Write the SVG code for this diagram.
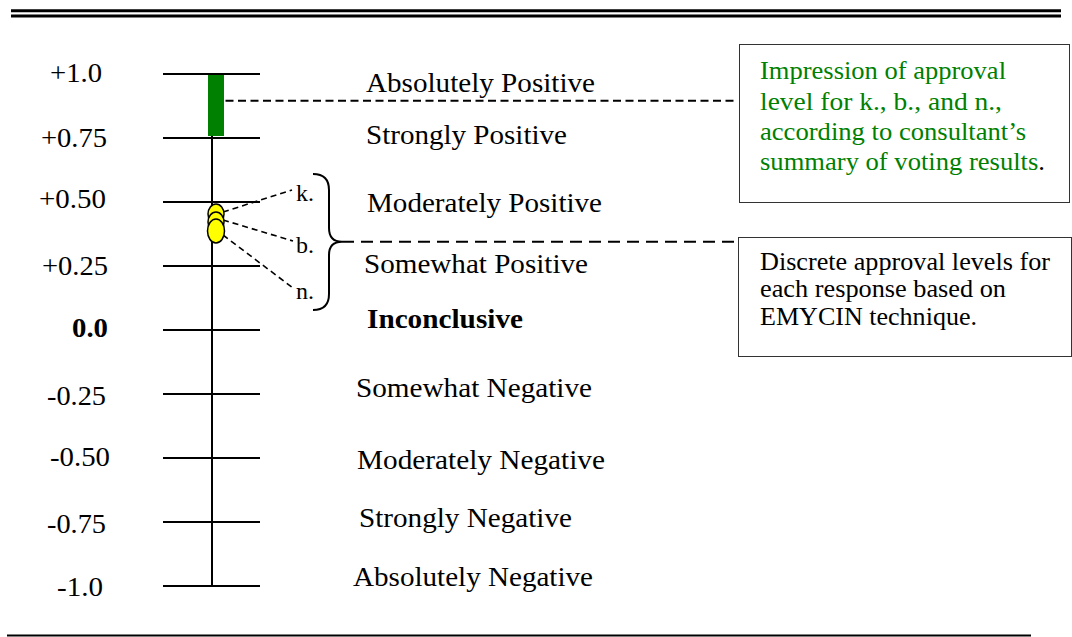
<svg xmlns="http://www.w3.org/2000/svg" width="1072" height="637" viewBox="0 0 1072 637" font-family="'Liberation Serif', 'Times New Roman', Times, serif">
<style>
  text { font-family: 'Liberation Serif', 'Times New Roman', Times, serif; fill: #000; }
  .num { font-size: 27px; }
  .lbl { font-size: 27px; }
  .box { font-size: 25px; }
  .grn { fill: #008000; }
  .bold { font-weight: bold; }
  .tick { stroke: #000; stroke-width: 2; }
  .frame { fill: #fff; stroke: #333; stroke-width: 1; }
  .dash1 { stroke: #000; stroke-width: 2; stroke-dasharray: 8 4.5; fill: none; }
  .dash2 { stroke: #000; stroke-width: 2; stroke-dasharray: 12 7; fill: none; }
  .dash3 { stroke: #000; stroke-width: 1.6; stroke-dasharray: 6 4; fill: none; }
</style>
<g id="rules">
  <line x1="11" y1="10.7" x2="1061" y2="10.7" stroke="#000" stroke-width="3"/>
  <line x1="11" y1="16" x2="1061" y2="16" stroke="#000" stroke-width="3"/>
  <line x1="7" y1="635.5" x2="1031" y2="635.5" stroke="#000" stroke-width="2"/>
</g>
<g id="scale">
  <line class="tick" x1="212" y1="74" x2="212" y2="586"/>
  <line class="tick" x1="163" y1="74" x2="260" y2="74"/>
  <line class="tick" x1="163" y1="138" x2="260" y2="138"/>
  <line class="tick" x1="163" y1="202" x2="260" y2="202"/>
  <line class="tick" x1="163" y1="266" x2="260" y2="266"/>
  <line class="tick" x1="163" y1="330" x2="260" y2="330"/>
  <line class="tick" x1="163" y1="394" x2="260" y2="394"/>
  <line class="tick" x1="163" y1="458" x2="260" y2="458"/>
  <line class="tick" x1="163" y1="522" x2="260" y2="522"/>
  <line class="tick" x1="163" y1="586" x2="260" y2="586"/>
</g>
<g id="numbers">
  <text class="num" x="50" y="82" textLength="52" lengthAdjust="spacingAndGlyphs">+1.0</text>
  <text class="num" x="41" y="147" textLength="66" lengthAdjust="spacingAndGlyphs">+0.75</text>
  <text class="num" x="39" y="208" textLength="67" lengthAdjust="spacingAndGlyphs">+0.50</text>
  <text class="num" x="42" y="275" textLength="66" lengthAdjust="spacingAndGlyphs">+0.25</text>
  <text class="num bold" x="72" y="337" textLength="36" lengthAdjust="spacingAndGlyphs">0.0</text>
  <text class="num" x="47" y="405" textLength="59" lengthAdjust="spacingAndGlyphs">-0.25</text>
  <text class="num" x="50" y="466" textLength="60" lengthAdjust="spacingAndGlyphs">-0.50</text>
  <text class="num" x="47" y="533" textLength="59" lengthAdjust="spacingAndGlyphs">-0.75</text>
  <text class="num" x="57" y="596" textLength="46" lengthAdjust="spacingAndGlyphs">-1.0</text>
</g>
<g id="labels">
  <text class="lbl" x="366" y="92" textLength="229" lengthAdjust="spacingAndGlyphs">Absolutely Positive</text>
  <text class="lbl" x="366" y="144" textLength="201" lengthAdjust="spacingAndGlyphs">Strongly Positive</text>
  <text class="lbl" x="367" y="212" textLength="235" lengthAdjust="spacingAndGlyphs">Moderately Positive</text>
  <text class="lbl" x="364" y="273" textLength="224" lengthAdjust="spacingAndGlyphs">Somewhat Positive</text>
  <text class="lbl bold" x="367" y="328" textLength="156" lengthAdjust="spacingAndGlyphs">Inconclusive</text>
  <text class="lbl" x="356" y="397" textLength="236" lengthAdjust="spacingAndGlyphs">Somewhat Negative</text>
  <text class="lbl" x="357" y="469" textLength="248" lengthAdjust="spacingAndGlyphs">Moderately Negative</text>
  <text class="lbl" x="359" y="527" textLength="213" lengthAdjust="spacingAndGlyphs">Strongly Negative</text>
  <text class="lbl" x="353" y="586" textLength="240" lengthAdjust="spacingAndGlyphs">Absolutely Negative</text>
</g>
<g id="connectors">
  <line class="dash1" x1="213" y1="100.7" x2="738" y2="100.7"/>
  <line class="dash2" x1="342" y1="241.7" x2="738" y2="241.7"/>
  <line class="dash3" x1="223" y1="212" x2="292" y2="190"/>
  <line class="dash3" x1="223" y1="220" x2="293" y2="241"/>
  <line class="dash3" x1="223" y1="235" x2="293" y2="288"/>
</g>
<g id="impression-bar">
  <rect x="208" y="75" width="16" height="61" fill="#008000"/>
</g>
<g id="responses">
  <ellipse cx="216" cy="214" rx="8" ry="10" fill="#ffff00" stroke="#000" stroke-width="1.5"/>
  <ellipse cx="216" cy="222" rx="8" ry="10" fill="#ffff00" stroke="#000" stroke-width="1.5"/>
  <ellipse cx="216" cy="231" rx="8.5" ry="12" fill="#ffff00" stroke="#000" stroke-width="1.5"/>
  <text x="296" y="201" font-size="24">k.</text>
  <text x="296" y="253" font-size="24">b.</text>
  <text x="296" y="299" font-size="24">n.</text>
</g>
<g id="brace">
  <path d="M313,174 Q329,174 329,190 L329,228 Q329,241.7 342,241.7 Q329,241.7 329,255 L329,294 Q329,310 313,310" fill="none" stroke="#000" stroke-width="2"/>
</g>
<g id="box-impression">
  <rect class="frame" x="739.5" y="44.5" width="330" height="158"/>
  <text class="box grn" x="760" y="79" textLength="246" lengthAdjust="spacingAndGlyphs">Impression of approval</text>
  <text class="box grn" x="760" y="110" textLength="242" lengthAdjust="spacingAndGlyphs">level for k., b., and n.,</text>
  <text class="box grn" x="760" y="140" textLength="266" lengthAdjust="spacingAndGlyphs">according to consultant’s</text>
  <text class="box" x="760" y="170" textLength="285" lengthAdjust="spacingAndGlyphs"><tspan class="grn">summary of voting results</tspan>.</text>
</g>
<g id="box-discrete">
  <rect class="frame" x="738.5" y="237.5" width="333" height="119"/>
  <text class="box" x="760" y="270" textLength="290" lengthAdjust="spacingAndGlyphs">Discrete approval levels for</text>
  <text class="box" x="760" y="297" textLength="246" lengthAdjust="spacingAndGlyphs">each response based on</text>
  <text class="box" x="760" y="325" textLength="217" lengthAdjust="spacingAndGlyphs">EMYCIN technique.</text>
</g>
</svg>
